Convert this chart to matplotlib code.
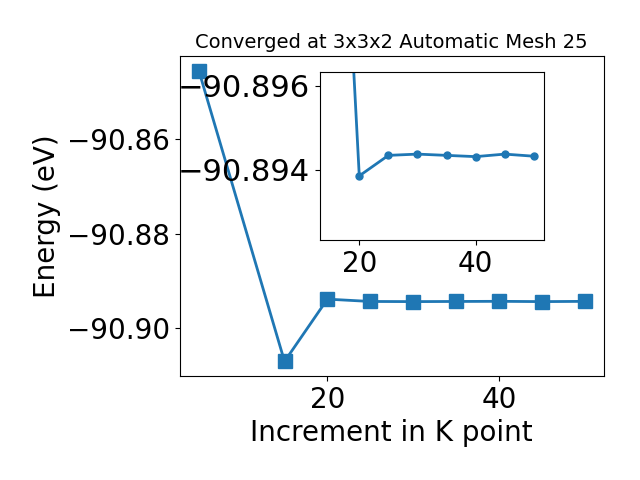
import matplotlib
matplotlib.use("Agg")
import matplotlib.pyplot as plt

kpoints = [5, 15, 20, 25, 30, 35, 40, 45, 50]
energy = [-90.8456, -90.9070, -90.89385, -90.89434, -90.89437, -90.89434,
          -90.89431, -90.89437, -90.89432]

fig = plt.figure(figsize=(6.4, 4.8), dpi=100)
ax = fig.add_axes([0.2805, 0.2167, 0.663, 0.6666])
ax.plot(kpoints, energy, marker='s', markersize=10, linewidth=2, color='#1f77b4')
ax.set_title("Converged at 3x3x2 Automatic Mesh 25", fontsize=14)
ax.set_xlabel("Increment in K point", fontsize=20)
ax.set_ylabel("Energy (eV)", fontsize=20)
ax.tick_params(labelsize=20)
ax.set_yticks([-90.86, -90.88, -90.90])
ax.set_xticks([20, 40])
ax.ticklabel_format(useOffset=False)

ins = fig.add_axes([0.5, 0.5, 0.35, 0.35])
ins.plot(kpoints[1:], energy[1:], marker='o', markersize=5, linewidth=2, color='#1f77b4')
ins.set_ylim(-90.89232, -90.89633)
ins.set_yticks([-90.896, -90.894])
ins.set_xticks([20, 40])
ins.ticklabel_format(useOffset=False)
ins.tick_params(axis='x', labelsize=20)
ins.tick_params(axis='y', labelsize=22)

fig.savefig("out.png", dpi=100)
